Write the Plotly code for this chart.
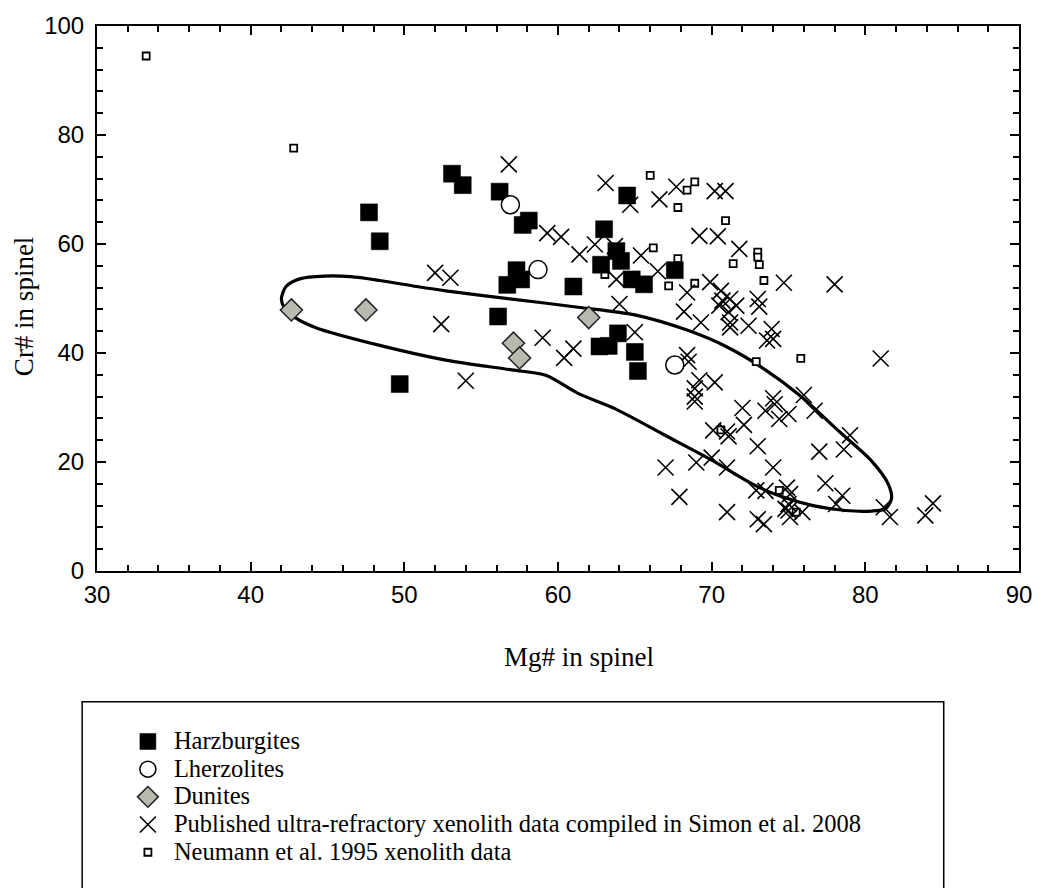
import plotly.graph_objects as go

# Spinel compositions (Mg#, Cr#)
harz_mg = [53.1, 53.8, 56.2, 58.1, 57.7, 47.7, 48.4, 57.3, 56.7, 57.6, 61.0, 56.1, 63.0,
           64.5, 63.8, 64.1, 62.8, 64.8, 65.6, 67.6, 63.9, 63.3, 62.7, 65.0, 65.2, 49.7]
harz_cr = [72.9, 70.8, 69.6, 64.3, 63.5, 65.8, 60.5, 55.2, 52.5, 53.5, 52.2, 46.7, 62.7,
           68.9, 58.7, 56.9, 56.2, 53.5, 52.6, 55.2, 43.6, 41.3, 41.2, 40.2, 36.7, 34.3]

lherz_mg = [56.9, 58.7, 67.6]
lherz_cr = [67.2, 55.3, 37.8]

dun_mg = [42.65, 47.5, 62.0, 57.1, 57.5]
dun_cr = [47.9, 47.9, 46.5, 41.8, 39.1]

simon_mg = [56.8, 63.1, 64.7, 66.6, 67.7, 59.3, 60.2, 62.4, 61.4, 63.7, 65.4, 66.5, 63.8,
            69.2, 52.0, 53.0, 64.0, 68.4, 68.2, 69.3, 52.4, 59.0, 61.0, 60.4, 65.0, 68.4,
            68.5, 54.0, 70.2, 70.9, 70.4, 71.8, 69.9, 70.6, 70.7, 71.2, 71.6, 70.5, 71.1,
            71.2, 71.2, 72.4, 73.0, 73.1, 73.9, 74.0, 73.6, 74.7, 78.0, 81.0, 69.2, 68.9,
            70.2, 68.9, 74.0, 76.0, 68.9, 72.0, 73.5, 74.1, 74.4, 75.0, 76.7, 72.1, 70.1,
            71.0, 71.1, 79.0, 78.6, 77.0, 73.0, 67.0, 69.0, 70.0, 71.0, 74.0, 77.4, 67.9,
            72.9, 73.5, 74.9, 75.1, 78.5, 78.1, 75.0, 75.0, 74.8, 75.9, 71.0, 73.0, 73.4,
            75.1, 81.6, 81.2, 83.9, 84.4]
simon_cr = [74.6, 71.2, 67.2, 68.2, 70.5, 62.0, 61.3, 59.9, 58.1, 59.6, 57.9, 55.0, 53.5,
            61.5, 54.7, 53.8, 49.0, 51.1, 47.6, 45.6, 45.3, 42.8, 40.8, 39.1, 43.8, 39.6,
            38.4, 34.9, 69.7, 69.7, 61.4, 59.1, 53.0, 51.4, 49.6, 49.9, 48.7, 48.7, 47.5,
            45.6, 44.7, 45.0, 49.9, 48.5, 44.4, 42.6, 42.3, 52.9, 52.6, 39.0, 35.0, 33.5,
            34.6, 32.0, 31.7, 32.3, 31.1, 29.9, 29.4, 30.6, 27.9, 28.8, 29.4, 26.8, 25.8,
            25.6, 24.7, 24.9, 22.3, 21.9, 22.9, 19.0, 19.9, 20.8, 19.0, 19.0, 16.1, 13.6,
            14.8, 14.7, 15.3, 14.1, 13.8, 12.3, 12.3, 11.1, 11.4, 10.8, 10.8, 9.5, 8.6,
            9.9, 9.9, 11.7, 10.2, 12.4]

neu_mg = [33.2, 42.8, 66.0, 68.9, 68.4, 67.8, 70.9, 66.2, 67.8, 71.4, 73.0, 73.0, 73.1,
          73.4, 67.2, 68.9, 72.9, 75.8, 63.05, 70.6, 74.4, 75.5]
neu_cr = [94.5, 77.6, 72.6, 71.4, 69.9, 66.7, 64.3, 59.3, 57.3, 56.4, 58.5, 57.6, 56.2,
          53.3, 52.3, 52.8, 38.4, 39.0, 54.4, 25.9, 14.8, 10.8]

# Outline of the field (closed curve)
field_mg = [42.0, 42.3, 43.2, 44.8, 46.5, 48.4, 50.8, 52.7, 57.0, 61.3, 65.0, 68.4, 71.0,
            73.4, 75.7, 78.3, 80.4, 81.5, 81.7, 81.3, 80.4, 78.7, 76.6, 74.4, 72.7, 70.1,
            66.9, 63.7, 61.3, 59.2, 57.0, 52.7, 48.4, 44.2, 42.9, 42.2, 42.0]
field_cr = [49.9, 52.2, 53.6, 54.1, 54.0, 53.3, 52.2, 51.4, 49.9, 48.4, 47.0, 44.2, 41.1,
            37.1, 32.3, 25.6, 20.2, 15.9, 13.2, 11.4, 11.0, 11.1, 12.0, 13.8, 15.9, 20.2,
            25.0, 29.8, 32.6, 35.9, 36.9, 38.7, 41.4, 44.7, 46.5, 48.3, 49.9]

SERIF = "Liberation Serif, Times New Roman, serif"
SANS = "Liberation Sans, Arial, sans-serif"


def legend_label(text):
    # legend row spacing follows legend.font.size; the label itself is set larger
    return '<span style="font-size:24.5px">' + text + "</span>"


fig = go.Figure()

fig.add_trace(go.Scatter(x=field_mg, y=field_cr, mode="lines",
                         line=dict(color="black", width=3.2, shape="spline", smoothing=0.8),
                         showlegend=False, hoverinfo="skip"))

fig.add_trace(go.Scatter(x=neu_mg, y=neu_cr, mode="markers",
                         name=legend_label("Neumann et al. 1995 xenolith data"),
                         legendrank=5,
                         marker=dict(symbol="square", size=7, color="white",
                                     line=dict(color="black", width=1.8))))

fig.add_trace(go.Scatter(x=simon_mg, y=simon_cr, mode="markers",
                         name=legend_label("Published ultra-refractory xenolith data compiled in Simon et al. 2008"),
                         legendrank=4,
                         marker=dict(symbol="x-thin", size=16, color="black",
                                     line=dict(color="black", width=1.6))))

fig.add_trace(go.Scatter(x=harz_mg, y=harz_cr, mode="markers",
                         name=legend_label("Harzburgites"),
                         legendrank=1,
                         marker=dict(symbol="square", size=17, color="black",
                                     line=dict(color="black", width=0.5))))

fig.add_trace(go.Scatter(x=lherz_mg, y=lherz_cr, mode="markers",
                         name=legend_label("Lherzolites"),
                         legendrank=2,
                         marker=dict(symbol="circle", size=18, color="white",
                                     line=dict(color="black", width=1.5))))

fig.add_trace(go.Scatter(x=dun_mg, y=dun_cr, mode="markers",
                         name=legend_label("Dunites"),
                         legendrank=3,
                         marker=dict(symbol="diamond", size=17, color="#b9b9b0",
                                     line=dict(color="#222222", width=1.5))))

axis_common = dict(showline=True, linecolor="black", linewidth=2, mirror="allticks",
                   ticks="inside", ticklen=9, tickwidth=1.5, tickcolor="black",
                   showgrid=False, zeroline=False,
                   tickfont=dict(family=SANS, size=24, color="black"))

fig.update_xaxes(range=[30, 90], dtick=10, tick0=30, ticklabelstandoff=1,
                 minor=dict(dtick=2, ticks="inside", ticklen=6, tickwidth=1.5, tickcolor="black"),
                 **axis_common)
fig.update_yaxes(range=[0, 100], dtick=20, tick0=0, ticklabelstandoff=6,
                 minor=dict(dtick=4, ticks="inside", ticklen=6, tickwidth=1.5, tickcolor="black"),
                 **axis_common)

fig.update_layout(
    width=1044, height=888,
    margin=dict(l=97, r=16, t=21, b=317),
    plot_bgcolor="white", paper_bgcolor="white",
    font=dict(family=SERIF, color="black"),
    legend=dict(x=0.027, y=(571 - 724) / 550, xanchor="left", yanchor="top",
                bgcolor="rgba(0,0,0,0)", borderwidth=0,
                font=dict(family=SERIF, size=19, color="black"),
                tracegroupgap=0, itemwidth=42),
    shapes=[dict(type="rect", xref="paper", yref="paper",
                 x0=(82 - 97) / 931, x1=(952 - 97) / 931,
                 y0=-0.62, y1=(571 - 703) / 550,
                 line=dict(color="black", width=1.5), fillcolor="rgba(0,0,0,0)")],
    annotations=[
        dict(text="Mg# in spinel", xref="paper", yref="paper",
             x=(584 - 97) / 931, y=(571 - 658) / 550, showarrow=False,
             xanchor="center", yanchor="middle",
             font=dict(family=SERIF, size=27, color="black")),
        dict(text="Cr# in spinel", xref="paper", yref="paper",
             x=(24 - 97) / 931, y=(571 - 304) / 550, showarrow=False, textangle=-90,
             xanchor="center", yanchor="middle",
             font=dict(family=SERIF, size=27, color="black")),
    ],
)

fig.write_html("out.html")
